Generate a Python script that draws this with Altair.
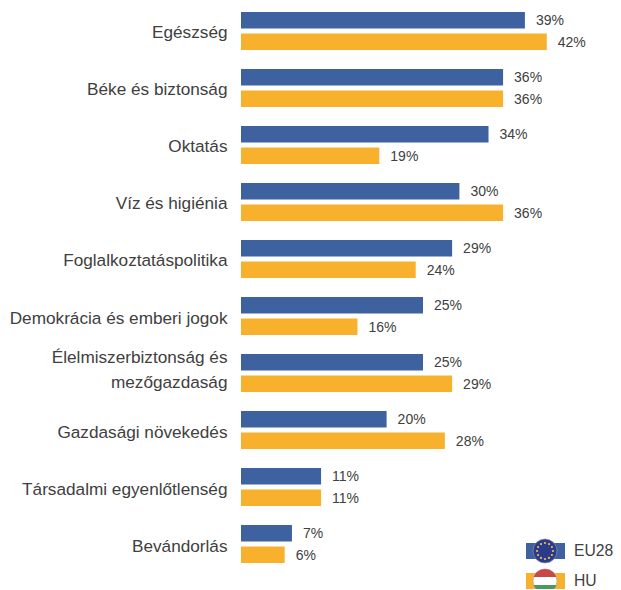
import math
import altair as alt
import pandas as pd

categories = ["Egészség", "Béke és biztonság", "Oktatás", "Víz és higiénia", "Foglalkoztatáspolitika",
              "Demokrácia és emberi jogok", "Élelmiszerbiztonság és|mezőgazdaság", "Gazdasági növekedés",
              "Társadalmi egyenlőtlenség", "Bevándorlás"]
eu28 = [39, 36, 34, 30, 29, 25, 25, 20, 11, 7]
hu = [42, 36, 19, 36, 24, 16, 29, 28, 11, 6]
series = ["EU28", "HU"]
blue, orange = "#3e62a0", "#f7b12d"
ink = "#404040"
font = "Liberation Sans"

rows = [{"cat": c, "series": "EU28", "value": v} for c, v in zip(categories, eu28)]
rows += [{"cat": c, "series": "HU", "value": v} for c, v in zip(categories, hu)]
df = pd.DataFrame(rows)
df["label"] = df["value"].astype(str) + "%"

OX, OY = 241, 8   # page position of the plot origin
X_SCALE = alt.Scale(domain=[0, 50], nice=False)
Y_SCALE = alt.Scale(domain=categories, paddingInner=0.333, paddingOuter=0.07)
OFF = alt.YOffset("series:N", sort=series, scale=alt.Scale(domain=series, paddingInner=0.23, paddingOuter=0))
base = alt.Chart(df).encode(
    y=alt.Y("cat:N", sort=categories, scale=Y_SCALE, title=None,
            axis=alt.Axis(labelExpr="split(datum.label, '|')", labelFont=font, labelFontSize=17.2, labelColor=ink,
                          labelPadding=14, ticks=False, domain=False, grid=False,
                          labelOffset={"condition": {"test": "indexof(datum.value, '|') >= 0", "value": -15}, "value": 2.5},
                          labelLineHeight=25, labelLimit=300)),
    yOffset=OFF,
)
bars = base.mark_bar(cornerRadius=0).encode(
    x=alt.X("value:Q", scale=X_SCALE, axis=None),
    color=alt.Color("series:N", scale=alt.Scale(domain=series, range=[blue, orange]), legend=None),
)
labels = base.mark_text(align="left", baseline="middle", dx=11, dy=1, font=font, fontSize=14, color=ink).encode(
    x=alt.X("value:Q", scale=X_SCALE, axis=None), text="label:N")

def box(x1, x2, y1, y2, color):
    return alt.Chart(pd.DataFrame({"k": [0]})).mark_rect(color=color).encode(
        x=alt.value(x1 - OX), x2=alt.value(x2 - OX), y=alt.value(y1 - OY), y2=alt.value(y2 - OY))

def dot(x, y, size, color, shape="circle", stroke=None):
    kw = {"stroke": stroke, "strokeWidth": 0.7} if stroke else {"strokeWidth": 0}
    return alt.Chart(pd.DataFrame({"k": [0]})).mark_point(filled=True, opacity=1, color=color, shape=shape, **kw).encode(
        x=alt.value(x - OX), y=alt.value(y - OY), size=alt.value(size))

def word(x, y, s):
    return alt.Chart(pd.DataFrame({"t": [s]})).mark_text(align="left", baseline="middle", font=font, fontSize=15.7, color=ink).encode(
        x=alt.value(x - OX), y=alt.value(y - OY), text="t:N")

LX, Y1, Y2 = 545, 551, 581
parts = [box(526, 565, 543, 559, blue), box(526, 565, 573, 589, orange),
         dot(LX, Y1, 576, "#2b3a8c", stroke="#8a8fb0")]
ring = pd.DataFrame([{"px": LX - OX + 8 * math.sin(i * math.pi / 6), "py": Y1 - OY + 8 * math.cos(i * math.pi / 6)} for i in range(12)])
parts.append(alt.Chart(ring).mark_circle(color="#e3c63f", size=5, opacity=1).encode(
    x=alt.X("px:Q", scale=None), y=alt.Y("py:Q", scale=None)))
parts += [dot(LX, Y2, 576, "#ffffff", stroke="#a8a8a8"),
          dot(LX, Y2, 576, "#c8484a", shape="M-0.943,-0.333 A1,1 0 0 1 0.943,-0.333 Z"),
          dot(LX, Y2, 576, "#4c9a5a", shape="M-0.943,0.333 A1,1 0 0 0 0.943,0.333 Z"),
          word(574, 551, "EU28"), word(574, 581, "HU")]

chart = alt.layer(bars, labels, *parts).resolve_scale(x="shared", y="shared").properties(
    width=364, height=559,
    padding={"left": 233, "top": 0, "right": 8, "bottom": 22},
    autosize=alt.AutoSizeParams(type="none"),
    background="white",
).configure_view(stroke=None)
chart.save("out.html", embed_options={"renderer": "svg", "actions": False})
